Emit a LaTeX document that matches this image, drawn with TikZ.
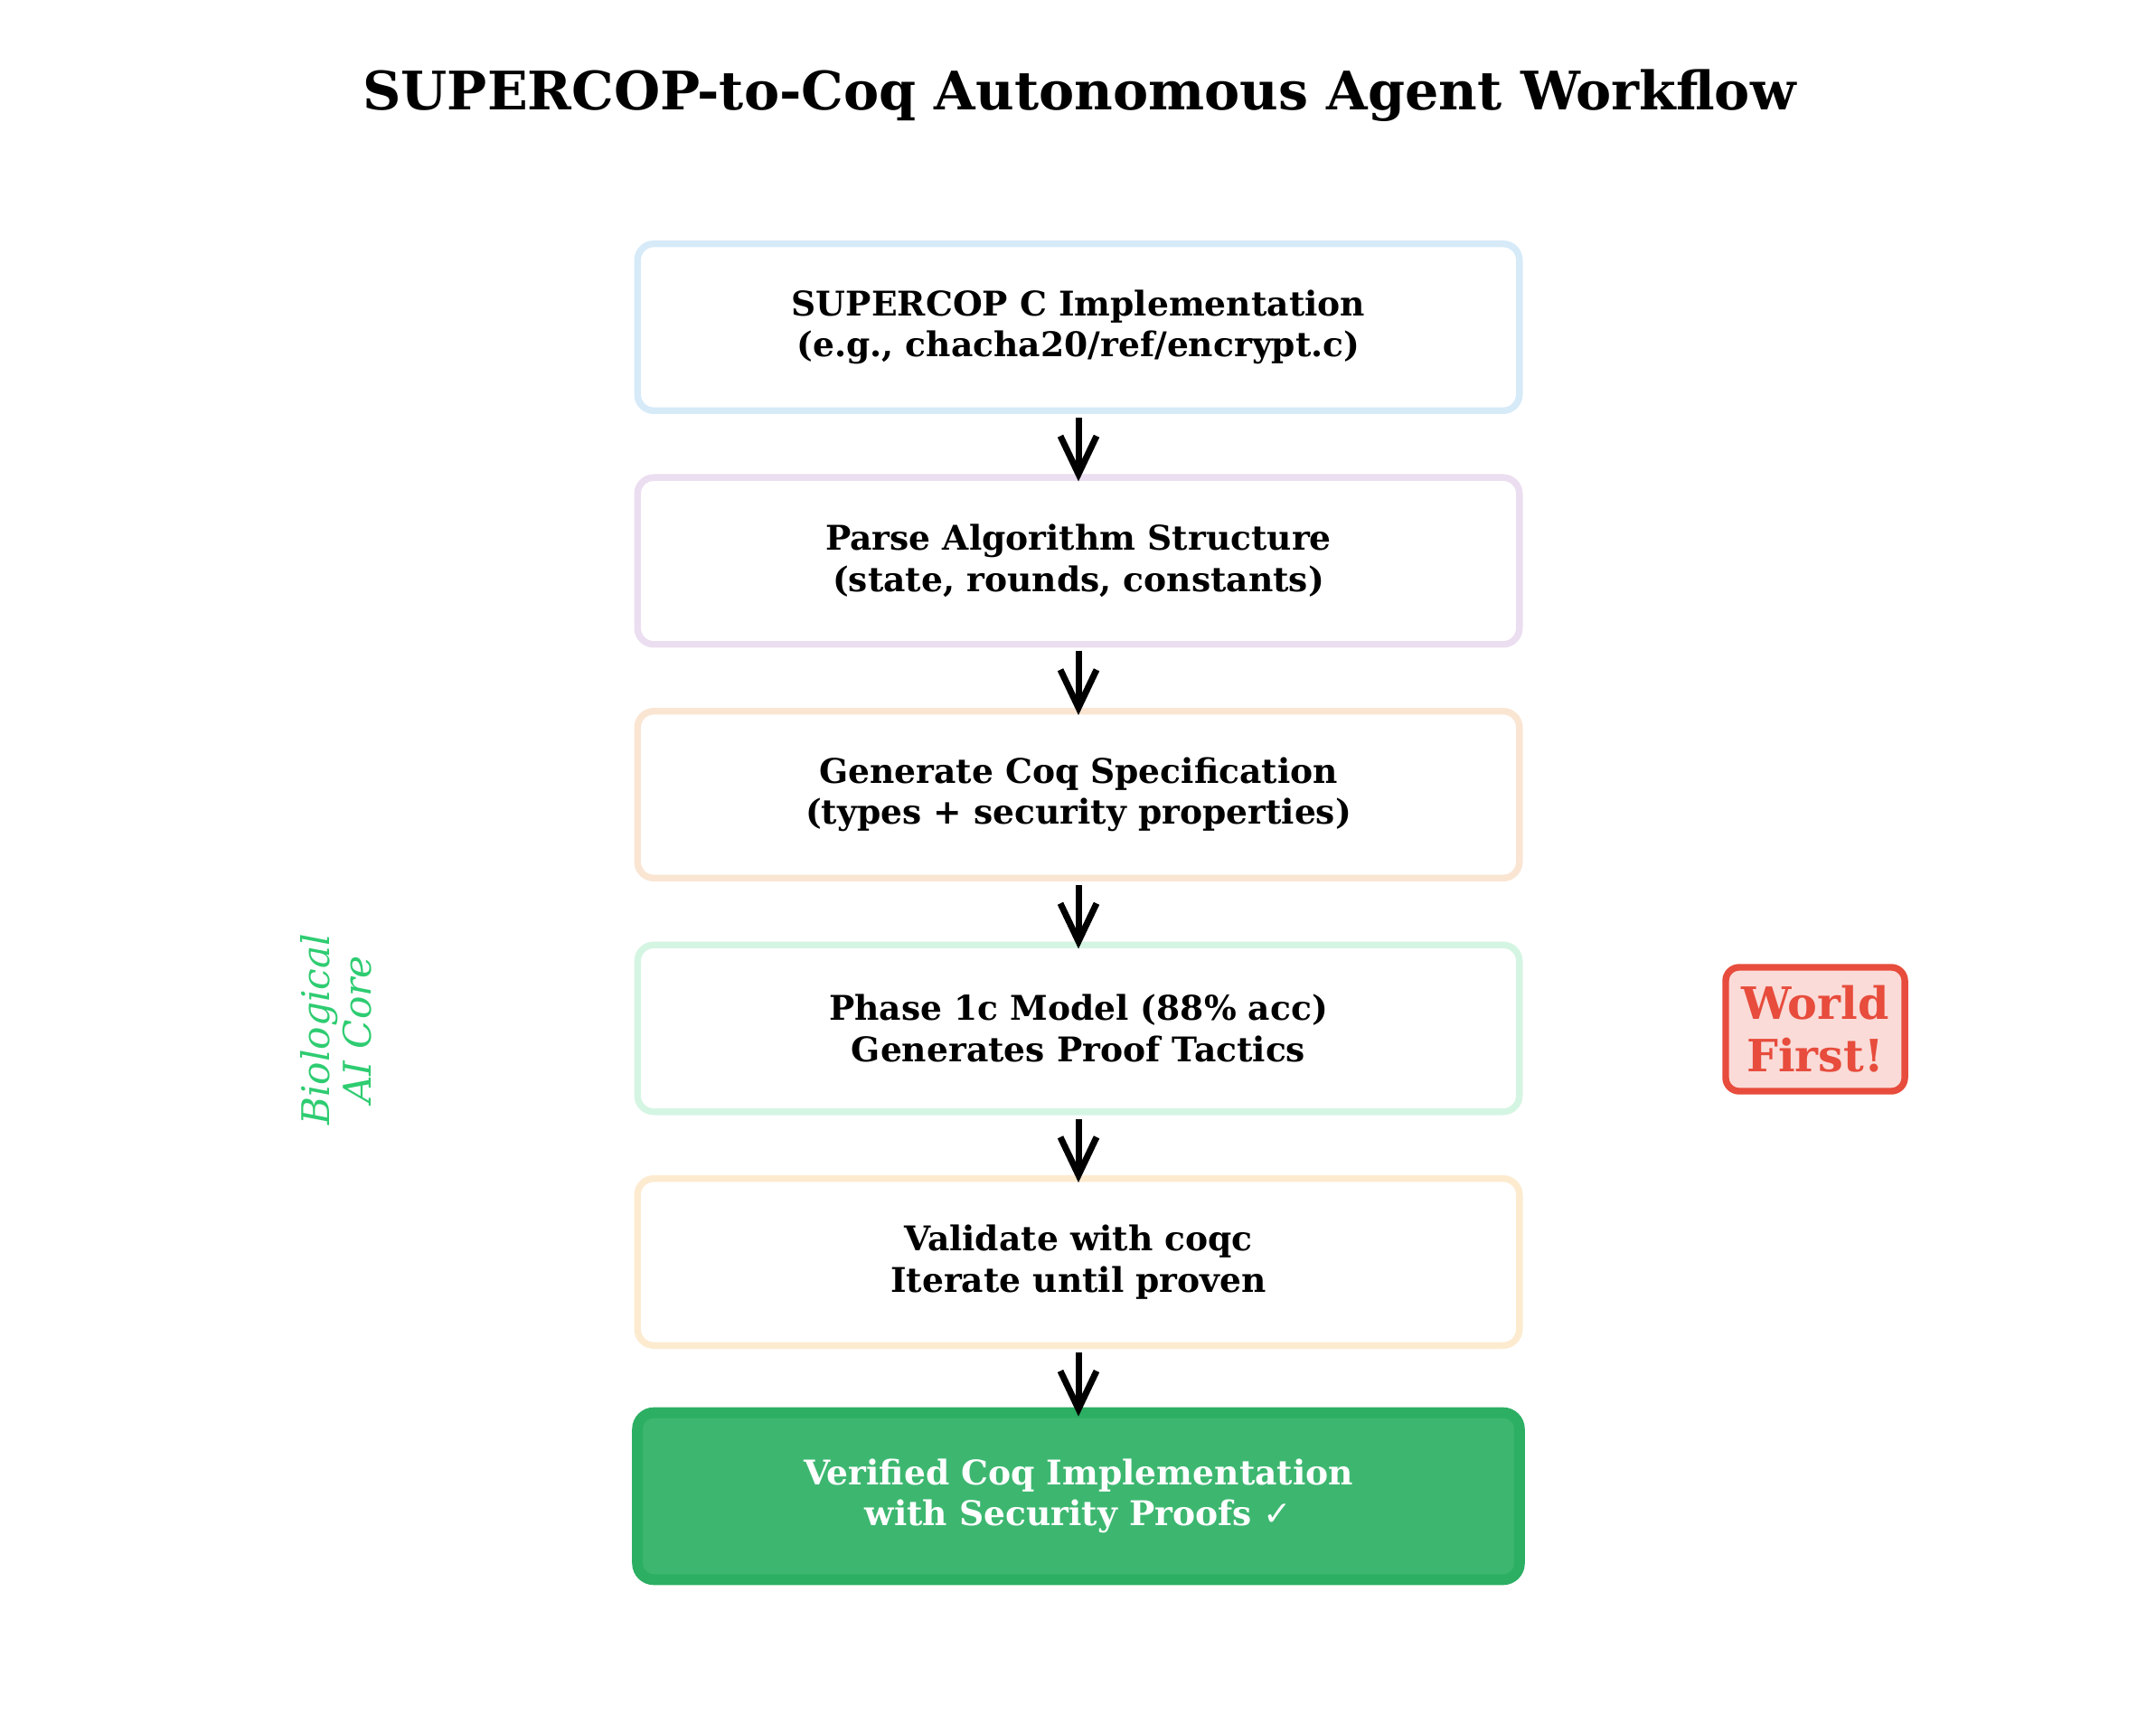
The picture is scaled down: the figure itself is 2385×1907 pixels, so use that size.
\documentclass[tikz,border=0pt]{standalone}
\usepackage{fontspec}
\setmainfont{DejaVu Serif}
\newfontfamily\symfont{DejaVu Sans}
\usetikzlibrary{arrows.meta}
\definecolor{cblue}{HTML}{D6EAF8}
\definecolor{cpurple}{HTML}{EBDEF0}
\definecolor{corange}{HTML}{FAE5D3}
\definecolor{cgreen}{HTML}{D5F5E3}
\definecolor{cyellow}{HTML}{FDEBD0}
\definecolor{finalfill}{HTML}{3DB770}
\definecolor{finaledge}{HTML}{2CAF63}
\definecolor{wred}{HTML}{E74C3C}
\definecolor{wpink}{HTML}{FADBD8}
\definecolor{bgreen}{HTML}{2ECC71}
\begin{document}
\begin{tikzpicture}[x=0.01cm,y=-0.01cm,
  stepbox/.style={draw, line width=2.1pt, rounded corners=0.18cm, fill=white,
    minimum width=9.75cm, minimum height=1.845cm, align=center, inner sep=0pt,
    font=\bfseries\fontsize{10.7}{13}\selectfont},
  flow/.style={-{Straight Barb[length=0.42cm,width=0.4cm]}, line width=2pt}]
\useasboundingbox (0,0) rectangle (2385,1907);
\node[anchor=base, font=\bfseries\fontsize{16.7}{20}\selectfont] (title) at (1194,121.7)
  {SUPERCOP-to-Coq Autonomous Agent Workflow};
\node[stepbox, draw=cblue] (b1) at (1193,362) {SUPERCOP C Implementation\\(e.g., chacha20/ref/encrypt.c)};
\node[stepbox, draw=cpurple] (b2) at (1193,620.5) {Parse Algorithm Structure\\(state, rounds, constants)};
\node[stepbox, draw=corange] (b3) at (1193,879) {Generate Coq Specification\\(types + security properties)};
\node[stepbox, draw=cgreen] (b4) at (1193,1137.5) {Phase 1c Model (88\% acc)\\Generates Proof Tactics};
\node[stepbox, draw=cyellow] (b5) at (1193,1396) {Validate with coqc\\Iterate until proven};
\node[stepbox, draw=finaledge, fill=finalfill, line width=3.4pt, text=white] (b6) at (1193,1655)
  {Verified Coq Implementation\\with Security Proofs {\symfont\bfseries ✓}};
\draw[flow] ([yshift=-0.04cm]b1.south) -- ([yshift=-0.08cm]b2.north);
\draw[flow] ([yshift=-0.04cm]b2.south) -- ([yshift=-0.08cm]b3.north);
\draw[flow] ([yshift=-0.04cm]b3.south) -- ([yshift=-0.08cm]b4.north);
\draw[flow] ([yshift=-0.04cm]b4.south) -- ([yshift=-0.08cm]b5.north);
\draw[flow] ([yshift=-0.04cm]b5.south) -- ([yshift=-0.10cm]b6.north);
\node[draw=wred, fill=wpink, line width=2.1pt, rounded corners=0.15cm,
  minimum width=1.98cm, minimum height=1.37cm, inner sep=0pt, align=center,
  text=wred, font=\bfseries\fontsize{14}{16.5}\selectfont] (wf) at (2008,1138.5) {World\\First!};
\node[rotate=90, text=bgreen, align=center, font=\itshape\fontsize{12}{13}\selectfont] (bio) at (372,1139)
  {Biological\\AI Core};
\end{tikzpicture}
\end{document}
